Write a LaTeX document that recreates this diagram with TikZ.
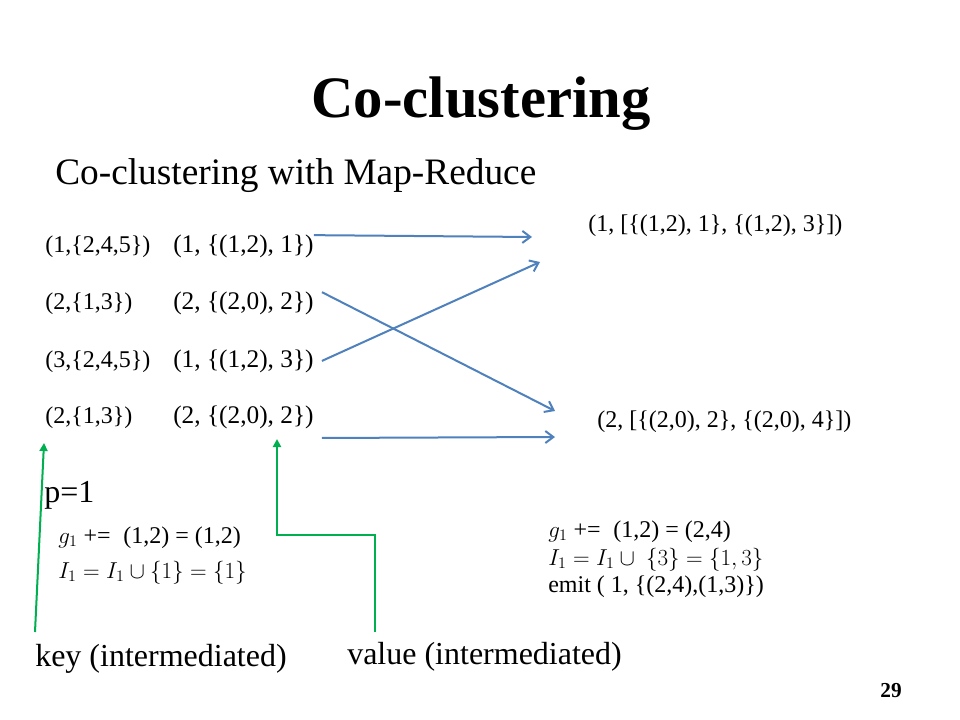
\documentclass[tikz,border=0pt]{standalone}
\usepackage{fontspec}
\setmainfont{Liberation Serif}
\usetikzlibrary{arrows.meta}
\definecolor{myblue}{RGB}{79,129,189}
\definecolor{mygreen}{RGB}{0,176,80}

\begin{document}
\begin{tikzpicture}[x=0.75pt, y=-0.75pt,
    pair/.style={anchor=base west, inner sep=0pt, font=\fontsize{18}{22}\selectfont},
    mapout/.style={pair, font=\fontsize{19}{22}\selectfont},
    state/.style={anchor=base west, inner sep=0pt, font=\fontsize{18}{22}\selectfont},
    caption/.style={anchor=base west, inner sep=0pt, font=\fontsize{24}{28}\selectfont},
    maparrow/.style={-{Straight Barb[length=6pt,width=9pt]}, myblue, line width=1.5pt},
    pointer/.style={-{Triangle[length=6pt,width=6pt]}, mygreen, line width=1.5pt}]
    \useasboundingbox[fill=white] (0,0) rectangle (960,720);
    % Title
    \node[anchor=base, font=\fontsize{44}{50}\selectfont\bfseries] (title) at (481,118) {Co-clustering};
    \node[anchor=base west, inner sep=0pt, font=\fontsize{28}{32}\selectfont] (sub) at (55,185) {Co-clustering with Map-Reduce};
    % Input records and map output
    \node[pair] (k1) at (45,253) {(1,\{2,4,5\})};
    \node[pair] (k2) at (45,310) {(2,\{1,3\})};
    \node[pair] (k3) at (45,367) {(3,\{2,4,5\})};
    \node[pair] (k4) at (45,423) {(2,\{1,3\})};
    \node[mapout] (v1) at (173,253) {(1, \{(1,2), 1\})};
    \node[mapout] (v2) at (173,310) {(2, \{(2,0), 2\})};
    \node[mapout] (v3) at (173,367) {(1, \{(1,2), 3\})};
    \node[mapout] (v4) at (173,423) {(2, \{(2,0), 2\})};
    % Reduce input
    \node[pair] (r1) at (588,232) {(1, [\{(1,2), 1\}, \{(1,2), 3\}])};
    \node[pair] (r2) at (597,427) {(2, [\{(2,0), 2\}, \{(2,0), 4\}])};
    % Shuffle arrows
    \coordinate (e1) at (532,237);
    \coordinate (e2) at (555,411);
    \coordinate (e3) at (540,262);
    \coordinate (e4) at (555,437);
    \draw[maparrow] (v1.north east) -- (e1);
    \draw[maparrow] ([xshift=6pt]v2.north east) -- (e2);
    \draw[maparrow] ([xshift=6pt]v3.east) -- (e3);
    \draw[maparrow] ([xshift=6pt,yshift=-7pt]v4.south east) -- (e4);
    % Reducer state
    \node[caption] (p) at (44,502) {p=1};
    \node[state] (g1) at (58,543) {$g_1$ +=\; (1,2) = (1,2)};
    \node[state] (i1) at (58,578) {$I_1 = I_1 \cup \{1\} = \{1\}$};
    \node[state] (g2) at (548,537) {$g_1$ +=\; (1,2) = (2,4)};
    \node[state] (i2) at (548,565) {$I_1 = I_1 \cup\ \{3\} = \{1,3\}$};
    \node[state] (emit) at (548,592) {emit ( 1, \{(2,4),(1,3)\})};
    % Pointers
    \node[caption] (keylab) at (35,666) {key (intermediated)};
    \node[caption] (vallab) at (347,664) {value (intermediated)};
    \coordinate (kb) at (35,632);
    \coordinate (kt) at (44,443);
    \coordinate (vb) at (375,632);
    \coordinate (vbend) at (277,535);
    \coordinate (vt) at (277,439);
    \draw[pointer] (kb) -- (kt);
    \draw[pointer] (vb) |- (vbend) -- (vt);
    % Slide number
    \node[anchor=base, font=\fontsize{16}{18}\selectfont\bfseries] (num) at (891,697) {29};
\end{tikzpicture}
\end{document}
